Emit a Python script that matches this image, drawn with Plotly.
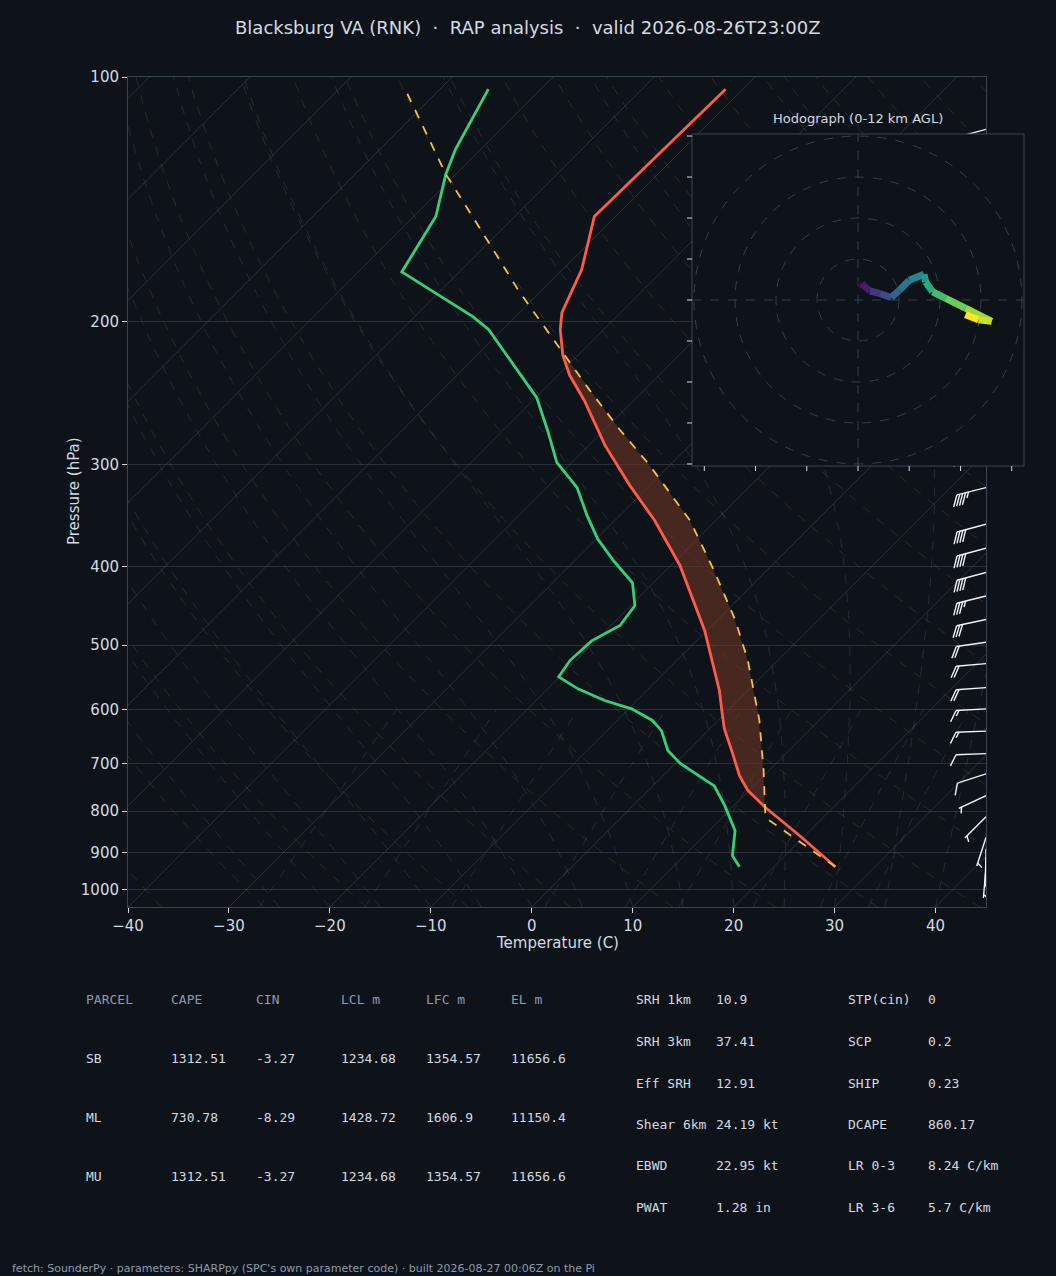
import numpy as np
import plotly.graph_objects as go
import plotly.colors as pc

# ---------------- data ----------------
temp_p = [103.5,148.5,172.6,195,204.5,220,233,250,284,318,351,399,480,569,605,633,678,724,755,792,858,937]
temp_t = [-61.7,-62.1,-58.1,-55.8,-54.3,-51.5,-48.8,-44.9,-38.4,-32.0,-26.1,-19.1,-10.2,-2.8,-0.4,1.4,4.6,7.6,9.9,13.3,19.5,26.1]

dew_p = [103.5,122.8,131.7,148.5,173.7,197,204.5,248,272,298,320,346,370,394,419,447,473,494,522,547,566,585,599,619,637,674,699,724,745,788,846,908,937]
dew_t = [-85.2,-82.5,-81.0,-77.8,-75.7,-64.3,-61.4,-49.9,-45.6,-41.5,-37.0,-33.3,-29.9,-26.1,-22.1,-19.6,-19.1,-20.4,-20.6,-20.1,-17.0,-13.2,-9.7,-6.5,-4.6,-2.0,0.5,3.6,6.1,9.1,12.6,14.8,16.6]

parcel_p = [937,815,714,619,522,466,405,351,300.5,272,242.8,211,183.4,154,131.7,103.6]
parcel_t = [26.1,14.3,9.5,4.1,-3.0,-8.2,-15.2,-22.6,-32.0,-38.4,-45.4,-53.8,-62.2,-72.1,-81.0,-93.4]

wind_p = [116,150,200,250,285,320,355,380,407,435,465,496,527,564,599,638,680,720,766,813,862,890,912,928,940]
wind_dir = [255,255,255,255,255,256,255,255,255,256,258,262,265,266,267,268,268,252,245,225,198,180,182,178,185]
wind_spd = [45,45,45,45,45,45,40,40,40,35,30,20,20,20,15,15,10,10,5,5,5,5,5,5,5]

hodo_u = [0.0,0.9,2.9,5.3,8.1,10.1,12.5,16.1,16.5,18.2,21.4,26.2,32.6,29.4,26.2]
hodo_v = [3.6,4.0,2.2,1.6,0.6,2.4,4.8,6.3,4.4,2.0,0.4,-2.0,-5.2,-4.8,-3.6]

parcel_hdr = ["PARCEL","CAPE","CIN","LCL m","LFC m","EL m"]
parcel_rows = [["SB","1312.51","-3.27","1234.68","1354.57","11656.6"],
               ["ML","730.78","-8.29","1428.72","1606.9","11150.4"],
               ["MU","1312.51","-3.27","1234.68","1354.57","11656.6"]]
idx_left_names = ["SRH 1km","SRH 3km","Eff SRH","Shear 6km","EBWD","PWAT"]
idx_left_vals = ["10.9","37.41","12.91","24.19 kt","22.95 kt","1.28 in"]
idx_right_names = ["STP(cin)","SCP","SHIP","DCAPE","LR 0-3","LR 3-6"]
idx_right_vals = ["0","0.2","0.23","860.17","8.24 C/km","5.7 C/km"]

# ---------------- style / geometry ----------------
W, H = 1056, 1276
BG = "#0e131a"
TXT = "#d5dae0"
SUB = "#8c9bae"
GRID = "#283039"
PBOT, PTOP = 1050.0, 100.0
SKEW = 80.4
PX_DEC = 812.0

def sk(t, p):
    return np.asarray(t, float) + SKEW * np.log10(PBOT / np.asarray(p, float))

fig = go.Figure()

def addline(x, y, color, width=1, dash="solid", **kw):
    fig.add_trace(go.Scatter(x=x, y=y, mode="lines", line=dict(color=color, width=width, dash=dash),
                             hoverinfo="skip", showlegend=False, **kw))

pp = np.array([PBOT, PTOP])
xs, ys = [], []
for t in range(-160, 60, 10):
    xs += list(sk([t, t], pp)) + [None]; ys += list(pp) + [None]
addline(xs, ys, "rgba(75,86,98,0.6)", 0.8)

pl = np.logspace(np.log10(PBOT), np.log10(PTOP), 80)
xs, ys = [], []
for t0 in range(-40, 211, 10):
    T = (t0 + 273.15) * (pl / 1000.0) ** 0.2857 - 273.15
    xs += list(sk(T, pl)) + [None]; ys += list(pl) + [None]
addline(xs, ys, "rgba(150,115,75,0.3)", 0.8, "dash")

Rd, Cp, Lv, eps = 287.04, 1005.7, 2.501e6, 0.622
def es(Tk):
    return 6.112 * np.exp(17.67 * (Tk - 273.15) / (Tk - 29.65))
xs, ys = [], []
for t0 in range(-25, 45, 5):
    Tk = t0 + 273.15
    plist = np.logspace(np.log10(PBOT), np.log10(PTOP), 200)
    Ts = [Tk]
    for i in range(1, len(plist)):
        p = plist[i - 1]; dp = plist[i] - p
        T = Ts[-1]
        rs = eps * es(T) / (p - es(T))
        dTdp = (Rd * T + Lv * rs) / (p * (Cp + Lv * Lv * rs * eps / (Rd * T * T)))
        Ts.append(T + dTdp * dp)
    xs += list(sk(np.array(Ts) - 273.15, plist)) + [None]; ys += list(plist) + [None]
addline(xs, ys, "rgba(95,125,155,0.3)", 0.8, "dash")

pm = np.linspace(PBOT, 600, 20)
xs, ys = [], []
for w in [0.0004, 0.001, 0.002, 0.004, 0.007, 0.01, 0.016, 0.024, 0.032]:
    e = w * pm / (eps + w)
    lnr = np.log(e / 6.112)
    Td = 243.5 * lnr / (17.67 - lnr)
    xs += list(sk(Td, pm)) + [None]; ys += list(pm) + [None]
addline(xs, ys, "rgba(95,125,155,0.3)", 0.8, "dash")

lp_t = np.log(np.array(temp_p)); lp_p = np.log(np.array(parcel_p))
grid = np.logspace(np.log10(810), np.log10(216), 200)
tt = np.interp(np.log(grid), lp_t, temp_t)
tp = np.interp(np.log(grid), lp_p[::-1], np.array(parcel_t)[::-1])
tp = np.maximum(tp, tt)
fx = list(sk(tp, grid)) + list(sk(tt, grid)[::-1])
fy = list(grid) + list(grid[::-1])
fig.add_trace(go.Scatter(x=fx, y=fy, mode="lines", fill="toself", fillcolor="rgba(110,55,38,0.6)",
                         line=dict(width=0), hoverinfo="skip", showlegend=False))

addline(sk(temp_t, temp_p), temp_p, "#ff5b4a", 2.8)
addline(sk(dew_t, dew_p), dew_p, "#35d07a", 2.8)
addline(sk(parcel_t, parcel_p), parcel_p, "#f5c242", 1.8, "dash")

# wind barbs
bx, by = [], []
XB = 986.0
def pt(px_e, px_n, p0):
    return XB + px_e, p0 * 10 ** (-px_n / PX_DEC)
for p0, d, s in zip(wind_p, wind_dir, wind_spd):
    r = np.radians(d)
    se, sn = np.sin(r), np.cos(r)
    pe, pn = -sn, se
    L = 30.0
    x0, y0 = pt(0, 0, p0); x1, y1 = pt(se * L, sn * L, p0)
    bx += [x0, x1, None]; by += [y0, y1, None]
    n10 = int(s // 10); n5 = int((s % 10) // 5)
    for i in range(n10):
        a = L - i * 3.0
        xa, ya = pt(se * a, sn * a, p0)
        xb_, yb_ = pt(se * (a + 6) + pe * 11, sn * (a + 6) + pn * 11, p0)
        bx += [xa, xb_, None]; by += [ya, yb_, None]
    if n5:
        a = L - n10 * 3.0 if n10 else L - 3.0
        xa, ya = pt(se * a, sn * a, p0)
        xb_, yb_ = pt(se * (a + 3) + pe * 5.5, sn * (a + 3) + pn * 5.5, p0)
        bx += [xa, xb_, None]; by += [ya, yb_, None]
fig.add_trace(go.Scatter(x=bx, y=by, xaxis="x3", yaxis="y", mode="lines",
                         line=dict(color="#f2f4f6", width=1.4), hoverinfo="skip", showlegend=False))

xd = [128 / W, 986 / W]
yd = [1 - 907 / H, 1 - 77 / H]
hxd = [692 / W, 1024 / W]
hyd = [1 - 466 / H, 1 - 134 / H]
HR = 40.5

ax_common = dict(showline=True, linecolor="#3a4552", mirror=True, zeroline=False, automargin=False,
                 ticks="outside", tickcolor=TXT, ticklen=5, tickfont=dict(size=15, color=TXT))
fig.update_layout(
    width=W, height=H, paper_bgcolor=BG, plot_bgcolor=BG,
    margin=dict(l=0, r=0, t=0, b=0, pad=0, autoexpand=False),
    font=dict(family="DejaVu Sans", color=TXT),
    xaxis=dict(domain=xd, range=[-40, 45], tickvals=list(range(-40, 41, 10)),
               showgrid=False, anchor="y", **ax_common),
    yaxis=dict(domain=yd, type="log", range=[np.log10(PBOT), np.log10(PTOP)],
               tickvals=[100, 200, 300, 400, 500, 600, 700, 800, 900, 1000],
               ticktext=["100", "200", "300", "400", "500", "600", "700", "800", "900", "1000"],
               showgrid=True, gridcolor=GRID, gridwidth=1, anchor="x", **ax_common),
    xaxis3=dict(domain=xd, range=[128, 986], overlaying="x", visible=False, anchor="y", automargin=False),
    xaxis2=dict(domain=hxd, range=[-HR, HR], visible=False, anchor="y2", automargin=False),
    yaxis2=dict(domain=hyd, range=[-HR, HR], visible=False, anchor="x2", automargin=False),
    showlegend=False,
)
fig.add_trace(go.Scatter(x=[0], y=[0], xaxis="x2", yaxis="y2", mode="markers",
                         marker=dict(size=1, color=BG), hoverinfo="skip", showlegend=False))

shapes = []
shapes.append(dict(type="rect", xref="paper", yref="paper", x0=hxd[0], x1=hxd[1], y0=hyd[0], y1=hyd[1],
                   fillcolor=BG, line=dict(color="#3a4552", width=1), layer="above"))
for r in [10, 20, 30, 40]:
    shapes.append(dict(type="circle", xref="x2", yref="y2", x0=-r, x1=r, y0=-r, y1=r,
                       line=dict(color="#34404d", width=1, dash="dash"), layer="above"))
shapes.append(dict(type="line", xref="x2", yref="y2", x0=-HR, x1=HR, y0=0, y1=0,
                   line=dict(color="#34404d", width=1, dash="dash"), layer="above"))
shapes.append(dict(type="line", xref="x2", yref="y2", x0=0, x1=0, y0=-HR, y1=HR,
                   line=dict(color="#34404d", width=1, dash="dash"), layer="above"))
for tv in [-37.5, -25, -12.5, 0, 12.5, 25, 37.5]:
    shapes.append(dict(type="line", xref="x2", yref="paper", x0=tv, x1=tv, y0=hyd[0], y1=hyd[0] - 5 / H,
                       line=dict(color=TXT, width=1), layer="above"))
for tv in [-40, -30, -20, -10, 0, 10, 20, 30, 40]:
    shapes.append(dict(type="line", xref="paper", yref="y2", x0=hxd[0], x1=hxd[0] - 5 / W, y0=tv, y1=tv,
                       line=dict(color=TXT, width=1), layer="above"))
n = len(hodo_u)
cols = pc.sample_colorscale("Viridis", [i / (n - 2) for i in range(n - 1)])
for i in range(n - 1):
    shapes.append(dict(type="line", xref="x2", yref="y2", x0=hodo_u[i], y0=hodo_v[i],
                       x1=hodo_u[i + 1], y1=hodo_v[i + 1], line=dict(color=cols[i], width=7), layer="above"))
fig.update_layout(shapes=shapes)

ann = []
def txt(x, y, s, size=13, color=TXT, family="DejaVu Sans Mono", xanchor="left"):
    ann.append(dict(x=x / W, y=1 - y / H, xref="paper", yref="paper", text=s, showarrow=False,
                    xanchor=xanchor, yanchor="middle", font=dict(size=size, color=color, family=family)))

txt(528, 27, "Blacksburg VA (RNK)  ·  RAP analysis  ·  valid 2026-08-26T23:00Z", 18, TXT, "DejaVu Sans", "center")
txt(557, 943, "Temperature (C)", 15, TXT, "DejaVu Sans", "center")
ann.append(dict(x=63 / W, y=1 - 491 / H, xref="paper", yref="paper", text="Pressure (hPa)", showarrow=False,
                textangle=-90, font=dict(size=15, color=TXT, family="DejaVu Sans")))
txt(858, 119, "Hodograph (0-12 km AGL)", 13, TXT, "DejaVu Sans", "center")

cx = [84, 169, 254, 339, 424, 509]
for j, h in enumerate(parcel_hdr):
    txt(cx[j], 999, h, 13, SUB)
for i, row in enumerate(parcel_rows):
    for j, v in enumerate(row):
        txt(cx[j], 1058 + i * 59, v, 13, TXT)
ry = [999, 1041, 1083, 1124, 1165, 1207]
for i in range(6):
    txt(634, ry[i], idx_left_names[i]); txt(714, ry[i], idx_left_vals[i])
    txt(846, ry[i], idx_right_names[i]); txt(926, ry[i], idx_right_vals[i])
txt(10, 1268, "fetch: SounderPy · parameters: SHARPpy (SPC's own parameter code) · built 2026-08-27 00:06Z on the Pi",
    11, SUB, "DejaVu Sans")
fig.update_layout(annotations=ann)

fig.write_html("out.html", config={"displayModeBar": False},
               post_script="document.body.style.margin='0';document.body.style.background='#0e131a';document.body.style.overflow='hidden';")
